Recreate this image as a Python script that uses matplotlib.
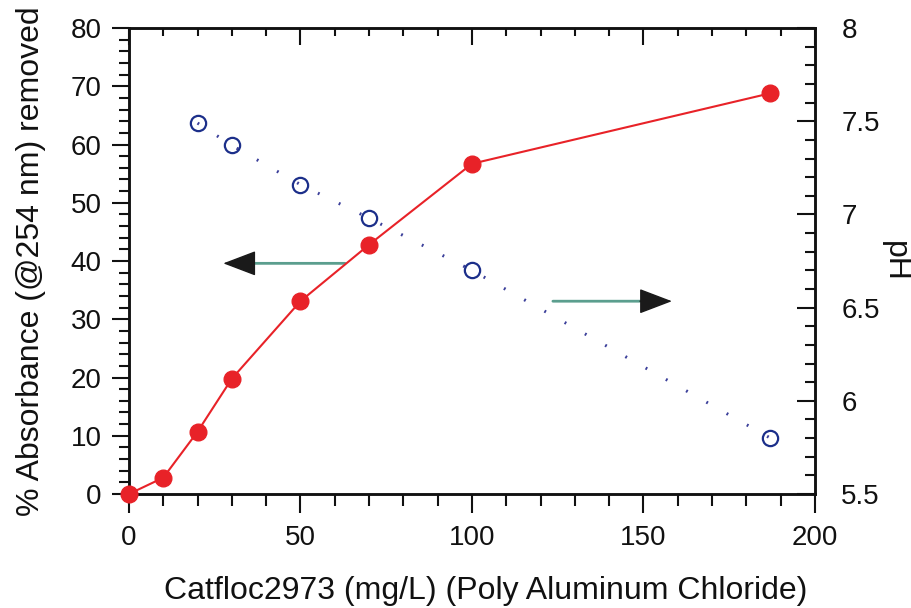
import matplotlib
matplotlib.use("Agg")
import matplotlib.pyplot as plt
from matplotlib.ticker import MultipleLocator

plt.rcParams['font.family'] = ['Liberation Sans', 'DejaVu Sans']

# Coagulant dose (mg/L)
dose_abs = [0, 10, 20, 30, 50, 70, 100, 187]
absorbance_removed = [0, 2.8, 10.7, 19.8, 33.1, 42.8, 56.7, 68.8]

dose_ph = [20, 30, 50, 70, 100, 187]
ph_values = [7.49, 7.37, 7.16, 6.98, 6.70, 5.80]

red = '#e82228'
blue = '#1c2f8a'
ink = '#111111'

fig = plt.figure(figsize=(9.12, 6.08), dpi=100)
ax = fig.add_axes([0.1414, 0.1875, 0.7522, 0.7664])

ax.plot(dose_abs, absorbance_removed, '-o', color=red, lw=1.5,
        markersize=12, markerfacecolor=red, markeredgecolor=red, zorder=4,
        clip_on=False)

ax.set_xlim(0, 200)
ax.set_ylim(0, 80)
ax.xaxis.set_major_locator(MultipleLocator(50))
ax.xaxis.set_minor_locator(MultipleLocator(10))
ax.yaxis.set_major_locator(MultipleLocator(10))
ax.yaxis.set_minor_locator(MultipleLocator(2))
ax.tick_params(axis='both', which='both', direction='out', colors=ink,
               labelsize=20, width=1.5)
ax.tick_params(axis='x', which='major', length=13.5, pad=9)
ax.tick_params(axis='x', which='minor', length=8.5)
ax.tick_params(axis='y', which='major', length=12.5, pad=7)
ax.tick_params(axis='y', which='minor', length=7.5)
for s in ax.spines.values():
    s.set_linewidth(1.8)
    s.set_color(ink)

ax.set_xlabel('Catfloc2973 (mg/L) (Poly Aluminum Chloride)', fontsize=23,
              labelpad=18, color=ink)
ax.xaxis.label.set_x(0.52)
ax.set_ylabel('% Absorbance (@254 nm) removed', fontsize=23, labelpad=18,
              color=ink)

# Top axis: inward ticks without labels
top = ax.secondary_xaxis('top')
top.xaxis.set_major_locator(MultipleLocator(50))
top.xaxis.set_minor_locator(MultipleLocator(10))
top.tick_params(which='both', direction='in', labeltop=False, width=1.5,
                colors=ink)
top.tick_params(which='major', length=12)
top.tick_params(which='minor', length=5.5)

# Right axis: pH
ax2 = ax.twinx()
ax2.plot(dose_ph, ph_values, linestyle=(0, (0.6, 7)), color='#3b3f9a',
         lw=2.2, marker='o', markersize=11, markerfacecolor='none',
         markeredgecolor=blue, markeredgewidth=1.6, zorder=3)
ax2.set_ylim(5.5, 8)
ax2.yaxis.set_major_locator(MultipleLocator(0.5))
ax2.yaxis.set_minor_locator(MultipleLocator(0.1))
ax2.tick_params(axis='y', which='both', direction='in', colors=ink,
                labelsize=20, width=1.5, pad=19)
ax2.tick_params(axis='y', which='major', length=13)
ax2.tick_params(axis='y', which='minor', length=7)
ax2.yaxis.set_major_formatter(plt.FuncFormatter(lambda v, p: f'{v:g}'))
ax2.set_ylabel('pH', fontsize=23, rotation=-90, labelpad=0, color=ink,
               va='bottom')
for s in ax2.spines.values():
    s.set_linewidth(1.8)
    s.set_color(ink)
ax.set_zorder(ax2.get_zorder() + 1)
ax.patch.set_visible(False)

# Direction arrows pointing to each series' axis
shaft = '#5b9e8e'
ax.annotate('', xy=(36, 39.6), xytext=(63, 39.6),
            arrowprops=dict(arrowstyle='-', color=shaft, lw=2,
                            shrinkA=0, shrinkB=0))
ax.annotate('', xy=(27.5, 39.6), xytext=(36.5, 39.6),
            arrowprops=dict(arrowstyle='-|>,head_length=1.05,head_width=0.4',
                            color='#1a1a1a', lw=1, shrinkA=0, shrinkB=0,
                            mutation_scale=20))
ax.annotate('', xy=(149.5, 33.1), xytext=(123.6, 33.1),
            arrowprops=dict(arrowstyle='-', color=shaft, lw=2,
                            shrinkA=0, shrinkB=0))
ax.annotate('', xy=(158.3, 33.1), xytext=(149, 33.1),
            arrowprops=dict(arrowstyle='-|>,head_length=1.05,head_width=0.4',
                            color='#1a1a1a', lw=1, shrinkA=0, shrinkB=0,
                            mutation_scale=20))

fig.savefig('out.png', dpi=100, facecolor='white')
